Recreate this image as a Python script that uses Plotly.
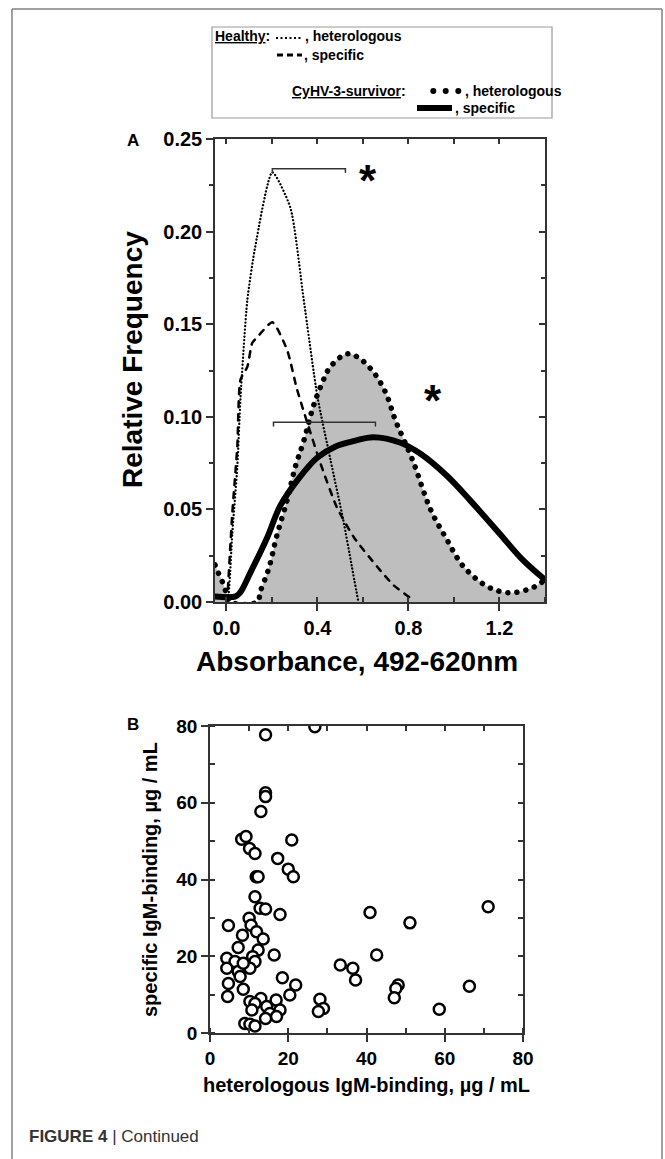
import plotly.graph_objects as go

W, H = 665, 1159
FONT = "Liberation Sans, Arial, sans-serif"

# ---------------- Panel A data (Absorbance distributions) ----------------
healthy_het_x = [0.0, 0.01, 0.026, 0.048, 0.062, 0.092, 0.127, 0.202, 0.281, 0.34, 0.40, 0.457, 0.514, 0.55, 0.58]
healthy_het_y = [0.0, 0.005, 0.037, 0.073, 0.110, 0.163, 0.192, 0.232, 0.213, 0.163, 0.111, 0.077, 0.044, 0.02, 0.0]

healthy_spec_x = [0.004, 0.009, 0.026, 0.048, 0.062, 0.092, 0.114, 0.136, 0.202, 0.267, 0.31, 0.355, 0.413,
                  0.486, 0.56, 0.663, 0.735, 0.823]
healthy_spec_y = [0.0, 0.012, 0.048, 0.084, 0.12, 0.127, 0.14, 0.143, 0.151, 0.136, 0.115, 0.097, 0.075,
                  0.051, 0.035, 0.019, 0.009, 0.001]

cyhv_het_x = [-0.05, -0.04, -0.018, 0.0, 0.02, 0.135, 0.15, 0.186, 0.22, 0.267, 0.303, 0.34, 0.383, 0.42, 0.457,
              0.53, 0.58, 0.647, 0.70, 0.743, 0.817, 0.897, 0.963, 1.043, 1.152, 1.248, 1.35, 1.4]
cyhv_het_y = [0.02, 0.017, 0.011, 0.005, 0.0, 0.0, 0.006, 0.018, 0.035, 0.055, 0.073, 0.087, 0.106, 0.118, 0.127,
              0.134, 0.132, 0.124, 0.113, 0.098, 0.077, 0.05, 0.035, 0.019, 0.008, 0.005, 0.008, 0.012]

cyhv_spec_x = [-0.05, 0.04, 0.06, 0.106, 0.18, 0.237, 0.32, 0.4, 0.48, 0.563, 0.646, 0.765, 0.853, 0.97, 1.07,
               1.2, 1.3, 1.4]
cyhv_spec_y = [0.003, 0.003, 0.005, 0.016, 0.035, 0.052, 0.067, 0.078, 0.084, 0.087, 0.089, 0.086, 0.080, 0.068,
               0.055, 0.037, 0.023, 0.012]

# significance brackets (x start, x end, y level) and asterisk positions
bracket_top = (0.202, 0.523, 0.234)
bracket_mid = (0.207, 0.655, 0.097)
star_top = (0.624, 0.232)
star_mid = (0.91, 0.113)

# ---------------- Panel B data (IgM binding scatter) ----------------
het_igm = [14.2, 26.8, 14.2, 14.2, 13.0, 8.1, 9.2, 10.1, 11.5, 20.9, 17.3, 20.0, 21.3, 11.8, 12.3, 11.5, 12.8,
           14.2, 17.9, 4.7, 10.0, 10.5, 8.3, 11.9, 13.6, 7.2, 12.3, 16.4, 4.3, 10.9, 11.5, 6.4, 4.3, 10.2, 7.2,
           7.7, 8.5, 4.7, 8.5, 18.5, 21.9, 20.4, 4.5, 13.0, 16.9, 10.2, 11.5, 14.5, 17.9, 10.7, 15.3, 17.0,
           14.2, 8.9, 10.2, 11.5, 28.1, 29.0, 27.7, 33.3, 36.5, 37.2, 40.9, 51.1, 71.1, 42.6, 48.1, 47.5, 47.1,
           58.6, 66.3]
spec_igm = [77.7, 79.8, 62.6, 61.6, 57.7, 50.5, 51.2, 48.1, 46.8, 50.3, 45.5, 42.7, 40.7, 40.7, 40.7, 35.5, 32.5,
            32.3, 30.9, 28.0, 29.9, 28.1, 25.5, 26.4, 24.5, 22.3, 21.6, 20.3, 19.5, 19.9, 18.6, 18.6, 16.9, 16.9,
            16.0, 14.7, 18.2, 12.9, 11.4, 14.4, 12.5, 9.9, 9.5, 9.0, 8.6, 8.2, 7.7, 6.9, 6.0, 6.0, 5.1, 4.3,
            3.8, 2.5, 2.3, 1.8, 8.8, 6.4, 5.6, 17.7, 16.9, 13.8, 31.4, 28.7, 32.9, 20.3, 12.5, 11.6, 9.2,
            6.2, 12.2]


def px(x):
    return x / W


def py(y):
    return 1 - y / H


fig = go.Figure()

# Panel A traces
fig.add_trace(go.Scatter(x=cyhv_het_x, y=cyhv_het_y, mode="lines", fill="tozeroy",
                         fillcolor="#bebebe",
                         line=dict(color="black", width=5.5, dash="0.1px,9px", shape="spline", smoothing=1),
                         xaxis="x", yaxis="y", showlegend=False, hoverinfo="skip"))
fig.add_trace(go.Scatter(x=healthy_het_x, y=healthy_het_y, mode="lines",
                         line=dict(color="black", width=2.3, dash="0.1px,3.4px", shape="spline", smoothing=0.6),
                         xaxis="x", yaxis="y", showlegend=False, hoverinfo="skip"))
fig.add_trace(go.Scatter(x=healthy_spec_x, y=healthy_spec_y, mode="lines",
                         line=dict(color="black", width=2.5, dash="6px,7px", shape="spline", smoothing=0.6),
                         xaxis="x", yaxis="y", showlegend=False, hoverinfo="skip"))
fig.add_trace(go.Scatter(x=cyhv_spec_x, y=cyhv_spec_y, mode="lines",
                         line=dict(color="black", width=6, shape="spline", smoothing=1),
                         xaxis="x", yaxis="y", showlegend=False, hoverinfo="skip"))

# brackets
for (x0, x1, yl) in (bracket_top, bracket_mid):
    drop = 0.002
    fig.add_trace(go.Scatter(x=[x0, x0, x1, x1], y=[yl - drop, yl, yl, yl - drop], mode="lines",
                             line=dict(color="#333333", width=1.5), xaxis="x", yaxis="y",
                             showlegend=False, hoverinfo="skip"))

# dummy traces for mirrored inside-tick axes
fig.add_trace(go.Scatter(x=[], y=[], xaxis="x3", yaxis="y", showlegend=False))
fig.add_trace(go.Scatter(x=[], y=[], xaxis="x", yaxis="y3", showlegend=False))

# Panel B scatter
fig.add_trace(go.Scatter(x=het_igm, y=spec_igm, mode="markers",
                         marker=dict(symbol="circle", size=11, color="white",
                                     line=dict(color="black", width=2.5)),
                         xaxis="x2", yaxis="y2", showlegend=False, hoverinfo="skip"))
fig.add_trace(go.Scatter(x=[], y=[], xaxis="x4", yaxis="y2", showlegend=False))
fig.add_trace(go.Scatter(x=[], y=[], xaxis="x2", yaxis="y4", showlegend=False))

AX = "#333333"
tfA = dict(family=FONT, size=20, color="black", weight="bold")
tfB = dict(family=FONT, size=19, color="black", weight="bold")

common = dict(showgrid=False, zeroline=False, tickcolor=AX, tickwidth=1.5)

fig.update_layout(
    width=W, height=H, margin=dict(l=0, r=0, t=0, b=0, pad=0, autoexpand=False),
    paper_bgcolor="white", plot_bgcolor="white",
    xaxis=dict(domain=[px(215), px(545)], range=[-0.05, 1.4], anchor="y", dtick=0.4, tick0=0,
               tickformat=".1f", ticks="outside", ticklen=7, showline=True, linecolor=AX, linewidth=1.5,
               mirror=True, tickfont=tfA,
               minor=dict(dtick=0.2, tick0=0, ticks="inside", ticklen=5, tickcolor=AX, tickwidth=1.5),
               **common),
    yaxis=dict(domain=[py(602), py(139)], range=[0, 0.25], anchor="x", dtick=0.05, tickformat=".2f",
               ticks="outside", ticklen=7, showline=True, linecolor=AX, linewidth=1.5, mirror=True,
               tickfont=tfA,
               minor=dict(dtick=0.025, ticks="outside", ticklen=4, tickcolor=AX, tickwidth=1.5),
               **common),
    xaxis3=dict(overlaying="x", side="top", anchor="y", range=[-0.05, 1.4], dtick=0.2, tick0=0,
                ticks="inside", ticklen=5, showticklabels=False, showline=False, **common),
    yaxis3=dict(overlaying="y", side="right", anchor="x", range=[0, 0.25], dtick=0.05,
                ticks="inside", ticklen=6, showticklabels=False, showline=False,
                minor=dict(dtick=0.025, ticks="inside", ticklen=4, tickcolor=AX, tickwidth=1.5),
                **common),
    xaxis2=dict(domain=[px(210), px(523)], range=[0, 80], anchor="y2", dtick=20, ticks="outside",
                ticklen=7, showline=True, linecolor=AX, linewidth=1.5, mirror=True, tickfont=tfB,
                minor=dict(dtick=10, ticks="inside", ticklen=5, tickcolor=AX, tickwidth=1.5),
                **common),
    yaxis2=dict(domain=[py(1033), py(726)], range=[0, 80], anchor="x2", dtick=20, ticks="outside",
                ticklen=7, showline=True, linecolor=AX, linewidth=1.5, mirror=True, tickfont=tfB,
                minor=dict(dtick=10, ticks="inside", ticklen=5, tickcolor=AX, tickwidth=1.5),
                **common),
    xaxis4=dict(overlaying="x2", side="top", anchor="y2", range=[0, 80], dtick=10,
                ticks="inside", ticklen=5, showticklabels=False, showline=False, **common),
    yaxis4=dict(overlaying="y2", side="right", anchor="x2", range=[0, 80], dtick=10,
                ticks="inside", ticklen=5, showticklabels=False, showline=False, **common),
)

ann = []


def text(x, y, s, size, xanchor="center", angle=0, weight="bold", color="black", xref="paper", yref="paper"):
    if xref == "paper":
        x = px(x)
    if yref == "paper":
        y = py(y)
    ann.append(dict(x=x, y=y, xref=xref, yref=yref, text=s, showarrow=False, xanchor=xanchor,
                    yanchor="middle", textangle=angle,
                    font=dict(family=FONT, size=size, color=color, weight=weight)))


# panel labels and axis titles
text(133, 140, "A", 17)
text(133, 724, "B", 17)
text(132, 360, "Relative Frequency", 28, angle=-90)
text(357, 662, "Absorbance, 492-620nm", 28)
text(150, 880, "specific IgM-binding, µg / mL", 20, angle=-90)
text(366, 1085, "heterologous IgM-binding, µg / mL", 20)

# asterisks
ann.append(dict(x=star_top[0], y=star_top[1], xref="x", yref="y", text="*", showarrow=False,
                yshift=-8, font=dict(family=FONT, size=44, color="black", weight="bold")))
ann.append(dict(x=star_mid[0], y=star_mid[1], xref="x", yref="y", text="*", showarrow=False,
                yshift=-8, font=dict(family=FONT, size=44, color="black", weight="bold")))

# legend box texts
text(213, 36, "<u>Healthy</u>:", 14, xanchor="left")
text(303, 36, ", heterologous", 14, xanchor="left")
text(302, 55, ", specific", 14, xanchor="left")
text(290, 91, "<u>CyHV-3-survivor</u>:", 14, xanchor="left")
text(463, 91, ", heterologous", 14, xanchor="left")
text(453, 108, ", specific", 14, xanchor="left")

# caption
text(27, 1136, "<b>FIGURE 4</b> | Continued", 17, xanchor="left", weight="normal", color="#333333")

fig.update_layout(annotations=ann)

shapes = []


def pline(x0, y0, x1, y1, color, width, dash="solid"):
    shapes.append(dict(type="line", xref="paper", yref="paper", x0=px(x0), y0=py(y0), x1=px(x1), y1=py(y1),
                       line=dict(color=color, width=width, dash=dash)))


# page frame
pline(12, 9, 662, 9, "#808080", 1.5)
pline(12, 9, 12, H, "#808080", 1.5)
pline(662, 9, 662, H, "#808080", 1.5)
# legend box
shapes.append(dict(type="rect", xref="paper", yref="paper", x0=px(212), y0=py(118), x1=px(552), y1=py(27),
                   line=dict(color="#999999", width=1.2)))
# legend samples
pline(276, 38, 301, 38, "black", 2, "2px,2.5px")
pline(277, 55, 302, 55, "black", 3, "6px,4px")
for cx in (433.3, 445.7, 458.3):
    shapes.append(dict(type="circle", xref="paper", yref="paper", x0=px(cx - 3), x1=px(cx + 3),
                       y0=py(94), y1=py(88), fillcolor="black", line=dict(color="black", width=0)))
pline(417, 108, 452, 108, "black", 6)

fig.update_layout(shapes=shapes)

page_css = ("var s=document.createElement('style');"
            "s.innerHTML='html,body{margin:0;padding:0;overflow:hidden;}"
            ".scatterlayer .js-line{stroke-linecap:round;}';"
            "document.head.appendChild(s);")

fig.write_html("out.html", post_script=page_css, config={"displayModeBar": False})
